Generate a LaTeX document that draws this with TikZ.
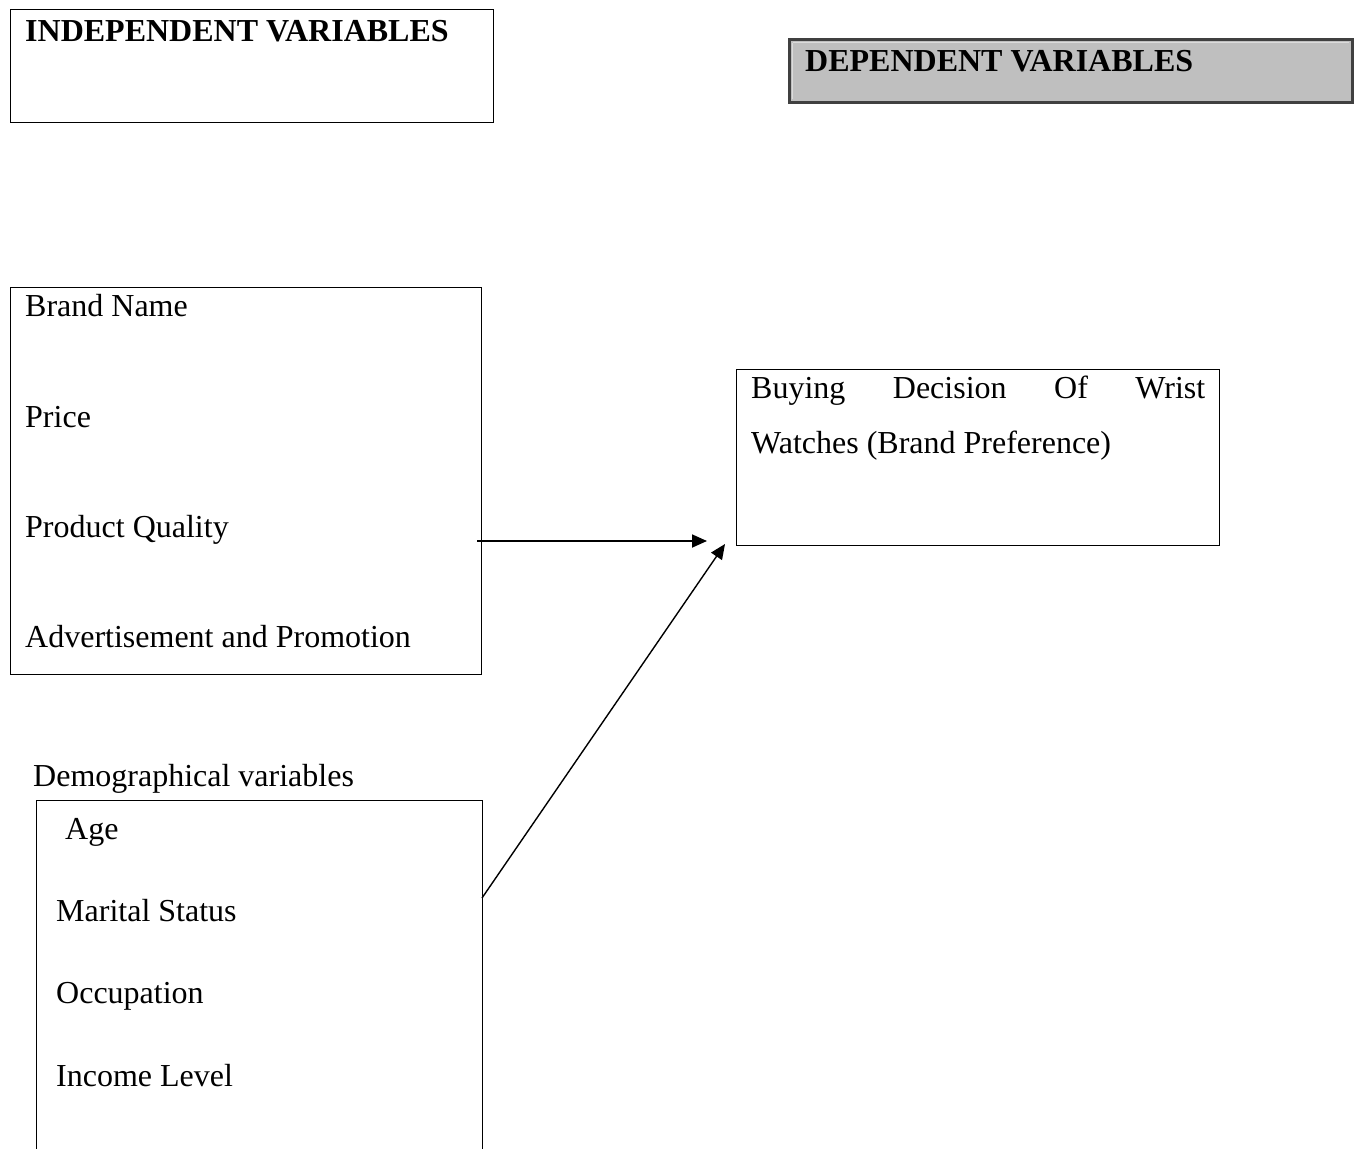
\documentclass[tikz,border=0pt]{standalone}
\usepackage{fontspec}
\setmainfont{Liberation Serif}
\usetikzlibrary{arrows.meta}
\begin{document}
\begin{tikzpicture}[x=1pt,y=-1pt,
  box/.style={draw=black,line width=1pt,inner sep=0pt,outer sep=0pt},
  txt/.style={anchor=base west,inner sep=0pt,font=\fontsize{32}{36}\selectfont},
  hd/.style={txt,font=\fontsize{32}{36}\selectfont\bfseries},
  arr/.style={line width=1.8pt,-{Triangle[length=15pt,width=13pt]}}]
\useasboundingbox[fill=white] (0,0) rectangle (1361,1149);
% boxes
\draw[box] (10,9) rectangle (493,122);
\node[inner sep=0pt] (indep) at (251.5,65.5) {};
\draw[draw={rgb,255:red,64;green,64;blue,64},fill={rgb,255:red,191;green,191;blue,191},line width=3pt] (789,39) rectangle (1352,102);
\draw[draw={rgb,255:red,220;green,220;blue,220},line width=0.8pt] (792.5,42.5) -- (792.5,98.5) (792.5,42.5) -- (1348.5,42.5);
\node[inner sep=0pt] (dep) at (1070.5,70.5) {};
\draw[box] (10,287) rectangle (481,674);
\node[inner sep=0pt] (ind) at (245.5,480.5) {};
\draw[box] (736,369) rectangle (1219,545);
\node[inner sep=0pt] (buy) at (977.5,457) {};
\draw[box] (36,1149) -- (36,800) -- (482,800) -- (482,1149);
\node[inner sep=0pt] (demo) at (259,975) {};
% texts
\node[hd] (tind) at (25,41) {INDEPENDENT VARIABLES};
\node[hd] (tdep) at (805,71) {DEPENDENT VARIABLES};
\node[txt] (t1) at (25,316) {Brand Name};
\node[txt] (t2) at (25,427) {Price};
\node[txt] (t3) at (25,537) {Product Quality};
\node[txt] (t4) at (25,647) {Advertisement and Promotion};
\node[txt] (tb1) at (751,398) {\makebox[454pt][s]{Buying\hfill Decision\hfill Of\hfill Wrist}};
\node[txt] (tb2) at (751,453) {Watches (Brand Preference)};
\node[txt] (tdemo) at (33,786) {Demographical variables};
\node[txt] (d1) at (65,839) {Age};
\node[txt] (d2) at (56,921) {Marital Status};
\node[txt] (d3) at (56,1003) {Occupation};
\node[txt] (d4) at (56,1086) {Income Level};
% connectors
\coordinate (a1s) at (477,541);
\coordinate (a1e) at (707,541);
\coordinate (a2s) at (482,898);
\coordinate (a2e) at (725,544);
\draw[arr] (a1s) -- (a1e);
\draw[arr,line width=1.4pt] (a2s) -- (a2e);
\end{tikzpicture}
\end{document}
